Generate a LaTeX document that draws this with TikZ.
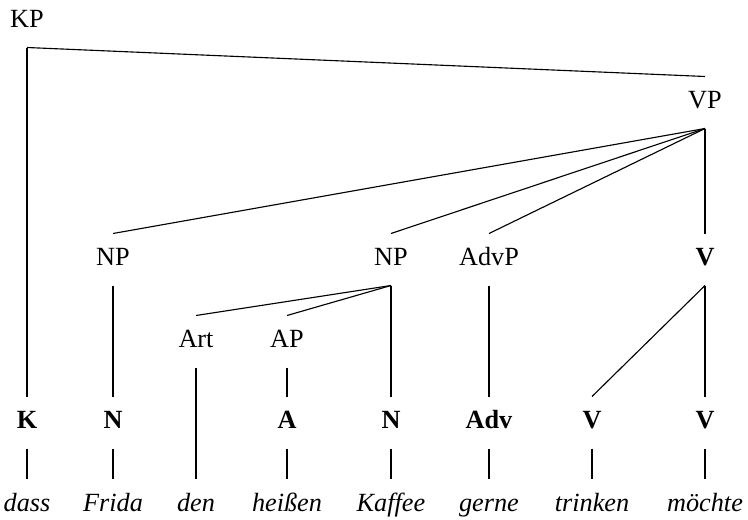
\documentclass[tikz,border=0pt]{standalone}
\usepackage{fontspec}
\setmainfont{Liberation Serif}
\usepackage{tikz}
\tikzset{
	cat/.style ={inner xsep=2pt, inner ysep=5.7pt, text height=7pt, text depth=2pt, font=\fontsize{10.5}{12}\selectfont},
	head/.style={cat, font=\fontsize{10.5}{12}\selectfont\bfseries},
	word/.style={cat, font=\fontsize{10.5}{12}\selectfont\itshape},
	branch/.style={line width=0.45pt},
}

\begin{document}
\begin{tikzpicture}[x=0.4pt, y=-0.4pt]
	\useasboundingbox (0,0) rectangle (748,520);
	% phrases
	\node[cat] (kp)   at (27,21.5)   {KP};
	\node[cat] (vp)   at (705,102.5) {VP};
	\node[cat] (npa)  at (113,259.5) {NP};
	\node[cat] (npb)  at (391,259.5) {NP};
	\node[cat] (advp) at (489,259.5) {AdvP};
	\node[head] (vtop) at (705,259.5) {V};
	\node[cat] (art)  at (196,341.5) {Art};
	\node[cat] (ap)   at (287,341.5) {AP};
	% heads
	\node[head] (k)   at (27,422.5)  {K};
	\node[head] (na)  at (113,422.5) {N};
	\node[head] (a)   at (287,422.5) {A};
	\node[head] (nb)  at (391,422.5) {N};
	\node[head] (adv) at (489,422.5) {Adv};
	\node[head] (va)  at (592,422.5) {V};
	\node[head] (vb)  at (705,422.5) {V};
	% words
	\node[word] (wdass)    at (27,505)  {dass};
	\node[word] (wfrida)   at (113,505) {Frida};
	\node[word] (wden)     at (196,505) {den};
	\node[word] (wheissen) at (287,505) {heißen};
	\node[word] (wkaffee)  at (391,505) {Kaffee};
	\node[word] (wgerne)   at (489,505) {gerne};
	\node[word] (wtrinken) at (592,505) {trinken};
	\node[word] (wmoechte) at (705,505) {möchte};
	% branches
	\draw[branch] (kp.south) -- (k.north);
	\draw[branch] (kp.south) -- (vp.north);
	\foreach \c in {npa, npb, advp, vtop}
		\draw[branch] (vp.south) -- (\c.north);
	\draw[branch] (npa.south) -- (na.north);
	\foreach \c in {art, ap, nb}
		\draw[branch] (npb.south) -- (\c.north);
	\draw[branch] (art.south) -- (wden.north);
	\draw[branch] (ap.south) -- (a.north);
	\draw[branch] (advp.south) -- (adv.north);
	\draw[branch] (vtop.south) -- (va.north);
	\draw[branch] (vtop.south) -- (vb.north);
	\draw[branch] (k.south) -- (wdass.north);
	\draw[branch] (na.south) -- (wfrida.north);
	\draw[branch] (a.south) -- (wheissen.north);
	\draw[branch] (nb.south) -- (wkaffee.north);
	\draw[branch] (adv.south) -- (wgerne.north);
	\draw[branch] (va.south) -- (wtrinken.north);
	\draw[branch] (vb.south) -- (wmoechte.north);
\end{tikzpicture}
\end{document}
